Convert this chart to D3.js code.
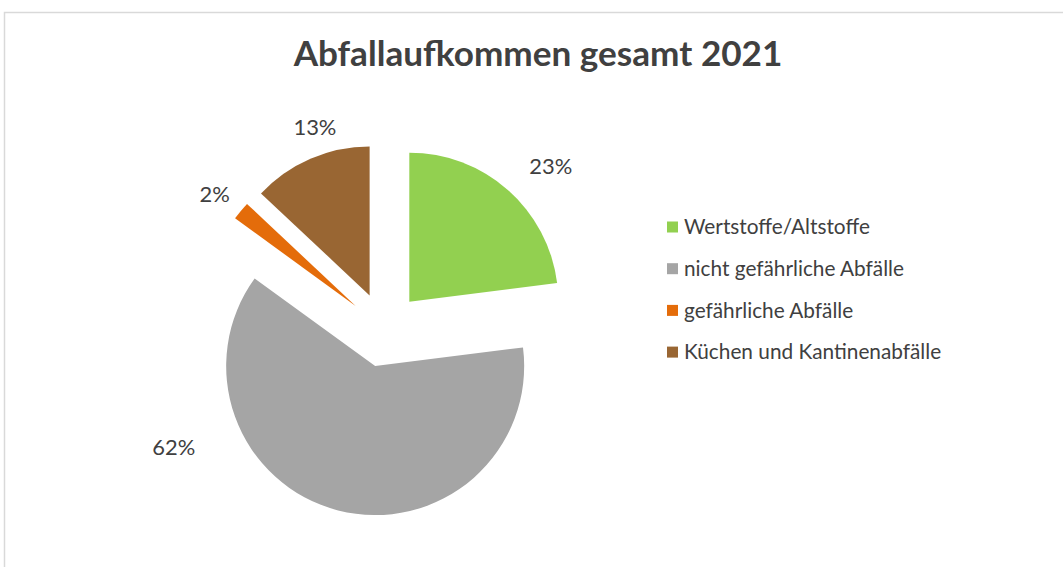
<!DOCTYPE html>
<html><head><meta charset="utf-8">
<script src="https://cdn.jsdelivr.net/npm/d3@7"></script>
<style>body{margin:0;background:#fff}svg{display:block}</style>
</head><body>
<svg id="chart" width="1063" height="567"></svg>
<script>
// ---- data ----
const title = "Abfallaufkommen gesamt 2021";
const categories = ["Wertstoffe/Altstoffe", "nicht gefährliche Abfälle", "gefährliche Abfälle", "Küchen und Kantinenabfälle"];
const values = [23, 62, 2, 13];
const valueLabels = ["23%", "62%", "2%", "13%"];
const colors = ["#92D050", "#A5A5A5", "#E46C0A", "#996633"];

// ---- layout ----
const W = 1063, H = 567;
const cx = 384.5, cy = 329.8, R = 149, explode = 37.5;
// label placement (polar, relative to each exploded slice centre): angle in degrees, distance in px
const labelPolar = [[46.2, 196], [248.1, 217], [308.5, 180], [342, 177]];
const FONT = "Lato, 'Open Sans', sans-serif";
const textColor = "#404040";

const svg = d3.select("#chart");
svg.append("rect").attr("x", 4.5).attr("y", 12.5).attr("width", W + 10).attr("height", H + 10)
  .attr("fill", "#fff").attr("stroke", "#D9D9D9").attr("stroke-width", 1.5);

function fit(sel, target) {
  const n = sel.node(); const fs = parseFloat(sel.attr("font-size"));
  const w = n.getComputedTextLength(); sel.attr("font-size", fs * target / w);
}

const t = svg.append("text").attr("x", 538).attr("y", 66).attr("text-anchor", "middle")
  .attr("font-family", FONT).attr("font-weight", "bold").attr("font-size", 30)
  .attr("fill", textColor).text(title);
fit(t, 489);

const pie = d3.pie().sort(null).value(d => d)(values);
const arc = d3.arc().innerRadius(0).outerRadius(R);
const g = svg.append("g").attr("transform", `translate(${cx},${cy})`);

let labelSize = null;
pie.forEach((d, i) => {
  const mid = (d.startAngle + d.endAngle) / 2;
  const ox = Math.sin(mid) * explode, oy = -Math.cos(mid) * explode;
  const sg = g.append("g").attr("transform", `translate(${ox},${oy})`);
  sg.append("path").attr("d", arc(d)).attr("fill", colors[i]);
  const a = labelPolar[i][0] * Math.PI / 180, dist = labelPolar[i][1];
  const lt = sg.append("text").attr("class", "vlab").attr("x", Math.sin(a) * dist).attr("y", -Math.cos(a) * dist)
    .attr("dy", "0.36em").attr("text-anchor", "middle")
    .attr("font-family", FONT).attr("font-size", 20).attr("fill", textColor).text(valueLabels[i]);
  if (i === 0) { fit(lt, 43); labelSize = lt.attr("font-size"); }
});
svg.selectAll("text.vlab").attr("font-size", labelSize);

const leg = svg.append("g");
categories.forEach((c, i) => {
  const y = 227 + i * 41.7;
  leg.append("rect").attr("x", 667).attr("y", y - 5.5).attr("width", 11).attr("height", 11).attr("fill", colors[i]);
  const lt = leg.append("text").attr("x", 684).attr("y", y).attr("dy", "0.35em")
    .attr("font-family", FONT).attr("font-size", 18).attr("fill", textColor).text(c);
  if (i === 0) fit(lt, 186);
});
const fs0 = leg.select("text").attr("font-size");
leg.selectAll("text").attr("font-size", fs0);
</script>
</body></html>
